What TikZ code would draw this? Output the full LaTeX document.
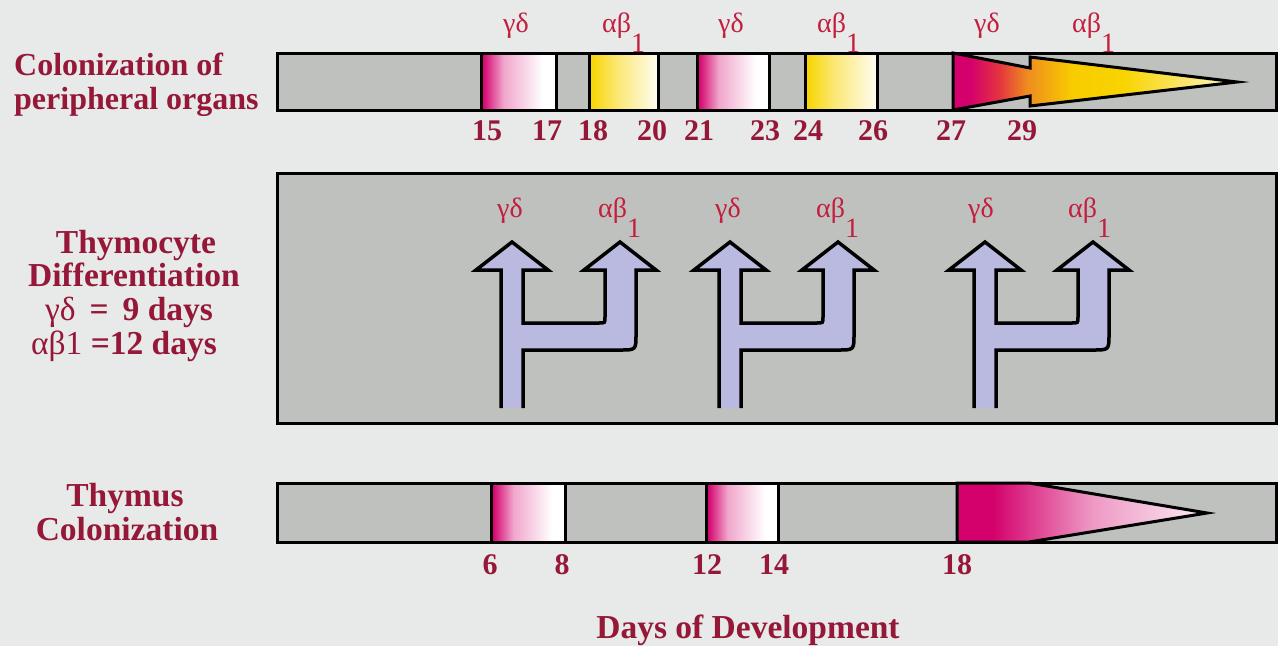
\documentclass[tikz,border=0pt]{standalone}
\usepackage{fontspec}
\setmainfont{Liberation Serif}
\definecolor{bgc}{RGB}{231,234,232}
\definecolor{panel}{RGB}{190,193,189}
\definecolor{txt}{RGB}{150,24,56}
\definecolor{grk}{RGB}{196,30,62}
\definecolor{mag}{RGB}{212,0,108}
\definecolor{yel}{RGB}{248,212,0}
\definecolor{orng}{RGB}{238,140,32}
\definecolor{redo}{RGB}{228,50,64}
\definecolor{lav}{RGB}{186,186,224}
\pgfdeclarehorizontalshading{pinkfade}{100bp}{color(0bp)=(mag); color(26bp)=(mag); color(40bp)=(mag!35!white); color(66bp)=(white); color(100bp)=(white)}
\pgfdeclarehorizontalshading{yelfade}{100bp}{color(0bp)=(yel); color(26bp)=(yel); color(45bp)=(yel!55!white); color(75bp)=(yel!5!white); color(100bp)=(yel!5!white)}
\pgfdeclarehorizontalshading{bigarrow}{100bp}{color(0bp)=(mag); color(28bp)=(mag); color(33bp)=(redo); color(38bp)=(orng); color(46bp)=(yel!90!orange); color(55bp)=(yel); color(75bp)=(yel!20!white); color(100bp)=(yel!20!white)}
\pgfdeclarehorizontalshading{pinktri}{100bp}{color(0bp)=(mag); color(32bp)=(mag); color(52bp)=(mag!40!white); color(75bp)=(mag!8!white); color(100bp)=(mag!8!white)}
\newcommand\forkpath[1]{({#1-11},408) -- ({#1-11},270) -- ({#1-36},270) -- (#1,242) -- ({#1+36},270) -- ({#1+11},270) -- ({#1+11},323) -- ({#1+87},323) .. controls ({#1+93},323) .. ({#1+93},317) -- ({#1+93},270) -- ({#1+72},270) -- ({#1+108},242) -- ({#1+144},270) -- ({#1+124},270) -- ({#1+124},334) .. controls ({#1+124},350) .. ({#1+108},350) -- ({#1+11},350) -- ({#1+11},408)}
\tikzset{
  barline/.style={draw=black, line width=3pt},
  lbl/.style={text=txt, font=\bfseries\fontsize{33.5}{35}\selectfont, inner sep=0pt},
  num/.style={text=txt, font=\bfseries\fontsize{30}{32}\selectfont, inner sep=0pt, anchor=base},
  grkl/.style={text=grk, font=\fontsize{28}{30}\selectfont, inner sep=0pt, anchor=base},
  forkline/.style={draw=black, line width=3.5pt, line join=miter},
}
\begin{document}
\begin{tikzpicture}[x=1pt,y=-1pt]
\useasboundingbox (0,0) rectangle (1278,646);
\fill[bgc] (0,0) rectangle (1278,646);
% top bar
\draw[barline, fill=panel] (277,53) rectangle (1276,110);
\shadedraw[barline, shading=pinkfade] (481,53) rectangle (556,110);
\shadedraw[barline, shading=yelfade] (589,53) rectangle (658,110);
\shadedraw[barline, shading=pinkfade] (697,53) rectangle (769,110);
\shadedraw[barline, shading=yelfade] (805,53) rectangle (877,110);
\shadedraw[barline, line join=miter, shading=bigarrow] (953,53) -- (1030,68) -- (1030,57) -- (1237,82) -- (1030,106) -- (1030,96) -- (953,110) -- cycle;
% middle panel
\draw[barline, fill=panel] (277,173) rectangle (1276,423);
\foreach \cx in {512,730,985}{
  \fill[lav] \forkpath{\cx} -- cycle;
  \draw[forkline] \forkpath{\cx};
}
% bottom bar
\draw[barline, fill=panel] (277,483) rectangle (1276,542);
\shadedraw[barline, shading=pinkfade] (491,483) rectangle (565,542);
\shadedraw[barline, shading=pinkfade] (706,483) rectangle (778,542);
\shadedraw[barline, line join=miter, shading=pinktri] (957,483) -- (1029,483) -- (1207,513) -- (1029,542) -- (957,542) -- cycle;
% left labels
\node[lbl, anchor=base west, font=\bfseries\fontsize{32}{34}\selectfont] (c1) at (14,75) {Colonization of};
\node[lbl, anchor=base west, font=\bfseries\fontsize{32}{34}\selectfont] (c2) at (14,109) {peripheral organs};
\node[lbl, anchor=base] (t1) at (136,253) {Thymocyte};
\node[lbl, anchor=base] (t2) at (134,286) {Differentiation};
\node[lbl, anchor=base] (t3) at (129,320) {{\mdseries γδ} \,=\, 9 days};
\node[lbl, anchor=base] (t4) at (124,354) {{\mdseries αβ1} =12 days};
\node[lbl, anchor=base] (b1) at (125,506) {Thymus};
\node[lbl, anchor=base] (b2) at (127,540) {Colonization};
\node[lbl, anchor=base] (days) at (748,638) {Days of Development};
% top greek labels
\node[grkl] (g1) at (516,32) {γδ};
\node[grkl] (g2) at (731,32) {γδ};
\node[grkl] (g3) at (987,32) {γδ};
\node[grkl, anchor=base west] (a1) at (602,32) {αβ\raisebox{-20pt}{1}};
\node[grkl, anchor=base west] (a2) at (817,32) {αβ\raisebox{-20pt}{1}};
\node[grkl, anchor=base west] (a3) at (1072,32) {αβ\raisebox{-20pt}{1}};
% middle greek labels
\node[grkl] (m1) at (510,217) {γδ};
\node[grkl] (m2) at (728,217) {γδ};
\node[grkl] (m3) at (981,217) {γδ};
\node[grkl, anchor=base west] (n1) at (598,217) {αβ\raisebox{-20pt}{1}};
\node[grkl, anchor=base west] (n2) at (816,217) {αβ\raisebox{-20pt}{1}};
\node[grkl, anchor=base west] (n3) at (1068,217) {αβ\raisebox{-20pt}{1}};
% top numbers
\foreach \x/\t [count=\i] in {487/15,547/17,593/18,652/20,699/21,765/23,808/24,873/26,951/27,1022/29}{
  \node[num] (tn\i) at (\x,140) {\t};
}
% bottom numbers
\foreach \x/\t [count=\i] in {490/6,562/8,707/12,774/14,957/18}{
  \node[num] (bn\i) at (\x,574) {\t};
}
\end{tikzpicture}
\end{document}
